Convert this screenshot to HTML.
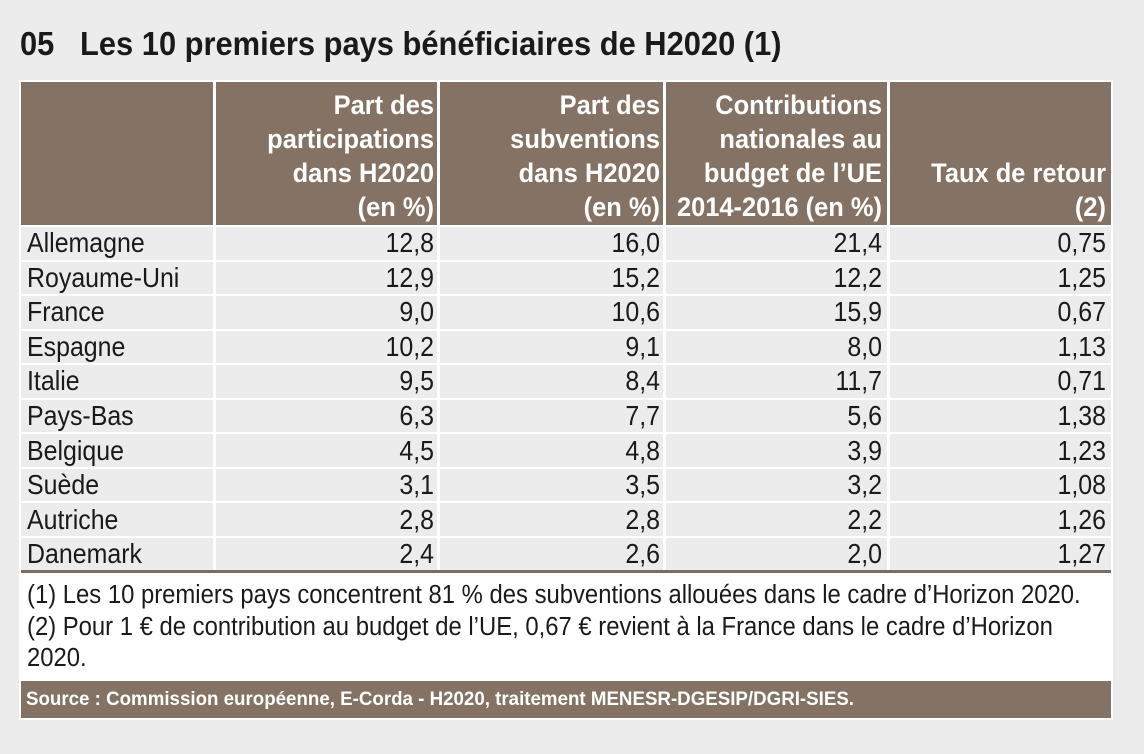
<!DOCTYPE html>
<html><head><meta charset="utf-8"><style>
*{margin:0;padding:0;box-sizing:border-box}
body{width:1144px;height:754px;background:#ececec;position:relative;overflow:hidden;font-family:"Liberation Sans",sans-serif;color:#1a1a1a}
.t{position:absolute;white-space:nowrap}
#title{left:20px;top:25px;font-size:33px;font-weight:bold;line-height:38px;transform:scaleX(0.935);transform-origin:left center}
#frame{position:absolute;left:19px;top:80px;width:1094px;height:640px;background:#fff}
#hdr{position:absolute;left:21px;top:82px;width:1090px;height:143px;background:#847264}
.vs{position:absolute;width:3px;background:#fff}
.h{position:absolute;color:#fff;font-weight:bold;font-size:26.5px;line-height:34px;text-align:right;white-space:nowrap;transform:scaleX(0.96);transform-origin:right center}
.row{position:absolute;left:21px;width:1090px;height:32.5px;background:#ececec}
.c{position:absolute;font-size:28px;line-height:34.6px;white-space:nowrap;transform:scaleX(0.89)}
.l{transform-origin:left center}
.r{text-align:right;transform-origin:right center}
#notes{position:absolute;left:27px;top:580px;font-size:25.5px;line-height:31.5px;white-space:nowrap;transform:scaleX(0.935);transform-origin:left center}
#src{position:absolute;left:21px;top:681px;width:1090px;height:37px;background:#847264}
#srct{position:absolute;left:26px;top:681px;color:#fff;font-weight:bold;font-size:19.5px;line-height:37px;white-space:nowrap;transform:scaleX(0.96);transform-origin:left center}
</style></head><body>
<div id="title" class="t">05&nbsp;&nbsp; Les 10 premiers pays bénéficiaires de H2020 (1)</div>
<div id="frame"></div>
<div id="hdr"></div>
<div class="h" style="left:214px;width:220px;top:88px">Part des<br>participations<br>dans H2020<br>(en %)</div>
<div class="h" style="left:440px;width:220px;top:88px">Part des<br>subventions<br>dans H2020<br>(en %)</div>
<div class="h" style="left:666px;width:216px;top:88px">Contributions<br>nationales au<br>budget de l’UE<br>2014-2016 (en %)</div>
<div class="h" style="left:890px;width:216px;top:156px">Taux de retour<br>(2)</div>
<div class="row" style="top:227px"></div><div class="row" style="top:261.5px"></div><div class="row" style="top:296px"></div><div class="row" style="top:330.5px"></div><div class="row" style="top:365px"></div><div class="row" style="top:399.5px"></div><div class="row" style="top:434px"></div><div class="row" style="top:468.5px"></div><div class="row" style="top:503px"></div><div class="row" style="top:537.5px"></div>
<div class="vs" style="left:213px;top:82px;height:488px"></div>
<div class="vs" style="left:437px;top:82px;height:488px"></div>
<div class="vs" style="left:663px;top:82px;height:488px"></div>
<div class="vs" style="left:887px;top:82px;height:488px"></div>
<div style="position:absolute;left:21px;top:570px;width:1090px;height:3px;background:#7a6d63"></div>

<div class="c l" style="left:27px;top:226px">Allemagne<br>Royaume-Uni<br>France<br>Espagne<br>Italie<br>Pays-Bas<br>Belgique<br>Suède<br>Autriche<br>Danemark</div>
<div class="c r" style="left:214px;width:220px;top:226px">12,8<br>12,9<br>9,0<br>10,2<br>9,5<br>6,3<br>4,5<br>3,1<br>2,8<br>2,4</div>
<div class="c r" style="left:440px;width:220px;top:226px">16,0<br>15,2<br>10,6<br>9,1<br>8,4<br>7,7<br>4,8<br>3,5<br>2,8<br>2,6</div>
<div class="c r" style="left:666px;width:216px;top:226px">21,4<br>12,2<br>15,9<br>8,0<br>11,7<br>5,6<br>3,9<br>3,2<br>2,2<br>2,0</div>
<div class="c r" style="left:890px;width:216px;top:226px">0,75<br>1,25<br>0,67<br>1,13<br>0,71<br>1,38<br>1,23<br>1,08<br>1,26<br>1,27</div>
<div id="notes">(1) Les 10 premiers pays concentrent 81 % des subventions allouées dans le cadre d’Horizon 2020.<br>(2) Pour 1 € de contribution au budget de l’UE, 0,67 € revient à la France dans le cadre d’Horizon<br>2020.</div>
<div id="src"></div>
<div id="srct">Source : Commission européenne, E-Corda - H2020, traitement MENESR-DGESIP/DGRI-SIES.</div>
</body></html>
